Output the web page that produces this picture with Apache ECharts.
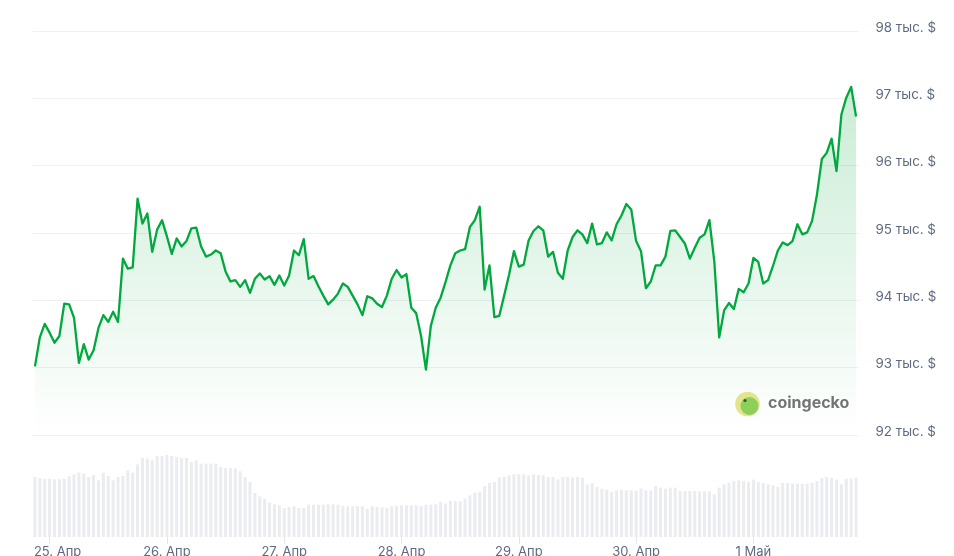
<!DOCTYPE html>
<html><head><meta charset="utf-8">
<script src="https://cdn.jsdelivr.net/npm/echarts@6.0.0/dist/echarts.min.js"></script>
<style>html,body{margin:0;padding:0;background:#fff}#c{width:954px;height:556px}</style>
</head><body><div id="c"></div>
<script>
// Hourly BTC price, thousands of USD (24 Apr 21:00 .. 1 May 21:00)
const priceK = [
93.02,93.45,93.65,93.52,93.37,93.47,93.95,93.94,93.74,93.07,
93.35,93.12,93.26,93.59,93.78,93.68,93.83,93.68,94.62,94.47,
94.49,95.51,95.14,95.29,94.72,95.05,95.19,94.95,94.69,94.92,
94.80,94.88,95.07,95.08,94.80,94.65,94.68,94.74,94.70,94.43,
94.28,94.30,94.20,94.30,94.11,94.32,94.40,94.31,94.36,94.23,
94.37,94.22,94.37,94.74,94.67,94.91,94.32,94.36,94.21,94.07,
93.94,94.01,94.10,94.25,94.20,94.07,93.94,93.78,94.06,94.03,
93.95,93.90,94.07,94.32,94.45,94.34,94.39,93.89,93.81,93.47,
92.97,93.62,93.89,94.04,94.27,94.52,94.70,94.74,94.76,95.09,
95.19,95.39,94.16,94.52,93.75,93.77,94.07,94.38,94.73,94.50,
94.53,94.89,95.03,95.10,95.04,94.65,94.72,94.41,94.32,94.74,
94.94,95.04,94.98,94.85,95.14,94.83,94.85,95.01,94.89,95.13,
95.26,95.43,95.35,94.88,94.73,94.18,94.28,94.52,94.52,94.65,
95.03,95.04,94.94,94.84,94.62,94.78,94.93,94.98,95.19,94.58,
93.45,93.85,93.96,93.87,94.17,94.12,94.25,94.63,94.57,94.25,
94.30,94.51,94.74,94.86,94.82,94.88,95.13,94.98,95.01,95.18,
95.57,96.10,96.19,96.40,95.92,96.76,97.01,97.17,96.73
];
// Hourly trading volume (relative units)
const volume = [
180,177,174,175,173,173,174,182,188,193,
190,180,186,170,193,183,170,180,183,200,
193,218,237,235,230,243,243,246,243,240,
237,237,225,230,220,220,220,220,210,207,
207,205,197,180,165,132,122,115,103,98,
95,87,90,92,87,88,97,97,97,97,
98,98,97,93,92,92,92,92,85,92,
90,88,88,92,93,95,95,95,95,93,
97,97,98,105,100,108,108,107,115,125,
133,135,152,162,165,178,180,185,188,188,
188,185,188,185,185,180,180,173,180,180,
178,180,178,158,162,150,145,142,135,140,
142,140,140,138,145,140,140,153,148,145,
148,148,138,138,138,138,137,137,137,128,
148,158,163,168,170,168,165,172,165,162,
158,155,150,162,162,160,160,160,160,162,
168,177,180,177,172,158,175,175,178
];
const tickIndex = [3, 27, 51, 75, 99, 123, 147];
const tickLabels = ['25. Апр', '26. Апр', '27. Апр', '28. Апр', '29. Апр', '30. Апр', '1 Май'];
const yMin = 92, yMax = 98, yStep = 1;

const start = new Date(2025, 3, 24, 21, 0, 0).getTime();
const hours = priceK.map((_, i) => {
  const d = new Date(start + i * 3600000);
  return d.getDate() + '.' + (d.getMonth() + 1) + ' ' + d.getHours() + ':00';
});

const FONT = 'Inter, "Noto Sans", sans-serif';
const labelColor = '#5d6b82';
const chart = echarts.init(document.getElementById('c'), null, { renderer: 'canvas' });
const isTick = (idx) => tickIndex.indexOf(idx) >= 0;

chart.setOption({
  animation: false,
  backgroundColor: '#ffffff',
  grid: [
    { left: 32.5, right: 95.5, top: 31, height: 404, containLabel: false, outerBoundsMode: 'none' },
    { left: 32.5, right: 95.5, top: 437, height: 100, containLabel: false, outerBoundsMode: 'none' }
  ],
  xAxis: [
    { type: 'category', gridIndex: 0, data: hours, boundaryGap: true, show: false },
    {
      type: 'category', gridIndex: 1, data: hours, boundaryGap: true,
      axisLine: { show: false },
      axisTick: { show: true, alignWithLabel: true, interval: (i) => isTick(i), length: 7, lineStyle: { color: '#e2e5ea', width: 1 } },
      axisLabel: {
        interval: (i) => isTick(i), margin: 9, fontSize: 13, fontFamily: FONT, color: labelColor,
        hideOverlap: false,
        formatter: (v, idx) => {
          const k = tickIndex.indexOf(idx);
          if (k < 0) return '';
          return k === 0 ? '{first|' + tickLabels[k] + '}' : tickLabels[k];
        },
        rich: { first: { padding: [0, 0, 0, 16], fontSize: 13, fontFamily: FONT, color: labelColor } }
      },
      splitLine: { show: false }
    }
  ],
  yAxis: [
    {
      type: 'value', gridIndex: 0, position: 'right', min: yMin, max: yMax, interval: yStep,
      axisLine: { show: false }, axisTick: { show: false },
      splitLine: { show: true, lineStyle: { color: '#eef0f4', width: 1 } },
      axisLabel: {
        margin: 17, fontSize: 13.4, fontFamily: FONT, color: labelColor, align: 'left',
        verticalAlign: 'middle',
        formatter: (v) => '{t|' + v + ' тыс. $}',
        rich: { t: { padding: [0, 0, 7, 0], fontSize: 13.4, fontFamily: FONT, color: labelColor } }
      }
    },
    { type: 'value', gridIndex: 1, min: 0, max: 300, show: false }
  ],
  series: [
    {
      type: 'bar', xAxisIndex: 1, yAxisIndex: 1, data: volume, barWidth: 3,
      itemStyle: { color: '#eaecf0' }, silent: true, z: 1
    },
    {
      type: 'line', xAxisIndex: 0, yAxisIndex: 0, data: priceK,
      showSymbol: false, symbol: 'none', z: 3,
      lineStyle: { color: '#00a83e', width: 2.3, join: 'round' },
      areaStyle: {
        color: new echarts.graphic.LinearGradient(0, 0, 0, 1, [
          { offset: 0, color: 'rgba(0,168,62,0.3)' },
          { offset: 1, color: 'rgba(0,168,62,0.0)' }
        ])
      }
    }
  ],
  graphic: [
    { type: 'circle', shape: { cx: 747.5, cy: 404, r: 12.3 }, style: { fill: '#e2e58b' }, z: 10 },
    { type: 'circle', shape: { cx: 749.5, cy: 406, r: 9 }, style: { fill: '#8ccf5b' }, z: 11 },
    { type: 'circle', shape: { cx: 745, cy: 400.5, r: 1.6 }, style: { fill: '#2f5b1e' }, z: 12 },
    { type: 'text', x: 768, y: 395, style: { text: 'coingecko', font: 'bold 16px ' + FONT, fill: '#737373' }, z: 10 }
  ]
});
</script>
</body></html>
